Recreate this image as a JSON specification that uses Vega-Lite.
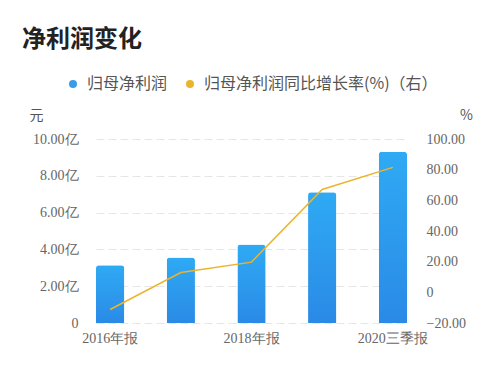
{
  "$schema": "https://vega.github.io/schema/vega-lite/v6.json",
  "width": 311,
  "height": 184,
  "autosize": "none",
  "padding": {"left": 96, "top": 139, "right": 93, "bottom": 49},
  "background": "white",
  "title": {
    "text": "净利润变化",
    "anchor": "start",
    "frame": "group",
    "font": "Noto Sans CJK SC",
    "fontSize": 24,
    "fontWeight": "bold",
    "color": "#222222",
    "dx": -74,
    "baseline": "middle",
    "offset": 0,
    "dy": -12
  },
  "data": {
    "values": [
      {"period": "2016年报", "profit": 3.14, "growth": -11.2},
      {"period": "2017年报", "profit": 3.56, "growth": 12.9},
      {"period": "2018年报", "profit": 4.27, "growth": 19.7},
      {"period": "2019年报", "profit": 7.11, "growth": 67.1},
      {"period": "2020三季报", "profit": 9.31, "growth": 81.5}
    ]
  },
  "encoding": {
    "x": {
      "field": "period",
      "type": "nominal",
      "sort": null,
      "scale": {"paddingInner": 0.6, "paddingOuter": 0},
      "axis": {
        "title": null,
        "domain": false,
        "ticks": false,
        "labelAngle": 0,
        "labelPadding": 8,
        "labelFont": "Liberation Serif",
        "labelFontSize": 14,
        "labelColor": "#666666",
        "labelExpr": "indexof(['2016年报','2018年报','2020三季报'], datum.value) >= 0 ? datum.value : ''"
      }
    }
  },
  "layer": [
    {
      "mark": {
        "type": "bar",
        "cornerRadiusTopLeft": 3,
        "cornerRadiusTopRight": 3,
        "fill": {
          "gradient": "linear",
          "x1": 0, "y1": 0, "x2": 0, "y2": 1,
          "stops": [
            {"offset": 0, "color": "#2faaf4"},
            {"offset": 1, "color": "#2a8ae6"}
          ]
        }
      },
      "encoding": {
        "y": {
          "field": "profit",
          "type": "quantitative",
          "scale": {"domain": [0, 10], "nice": false},
          "axis": {
            "values": [0, 2, 4, 6, 8, 10],
            "domain": false,
            "ticks": false,
            "labelPadding": 18,
            "labelFont": "Liberation Serif",
            "labelFontSize": 14,
            "labelColor": "#666666",
            "labelExpr": "datum.value == 0 ? '0' : format(datum.value, '.2f') + '亿'",
            "grid": true,
            "gridColor": "#e6e6e6",
            "gridDash": [8, 4],
            "title": "元",
            "titleAngle": 0,
            "titleX": -60,
            "titleY": -24,
            "titleAlign": "center",
            "titleBaseline": "middle",
            "titleFont": "Noto Sans CJK SC",
            "titleFontSize": 14,
            "titleFontWeight": "normal",
            "titleColor": "#555555"
          }
        }
      }
    },
    {
      "mark": {"type": "line", "strokeWidth": 1.5, "interpolate": "linear"},
      "encoding": {
        "y": {
          "field": "growth",
          "type": "quantitative",
          "scale": {"domain": [-20, 100], "nice": false, "zero": false},
          "axis": {
            "orient": "right",
            "values": [-20, 0, 20, 40, 60, 80, 100],
            "domain": false,
            "ticks": false,
            "grid": false,
            "labelPadding": 19,
            "labelFont": "Liberation Serif",
            "labelFontSize": 14,
            "labelColor": "#666666",
            "labelExpr": "datum.value == 0 ? '0' : format(datum.value, '.2f')",
            "title": "%",
            "titleAngle": 0,
            "titleX": 59,
            "titleY": -24,
            "titleAlign": "center",
            "titleBaseline": "middle",
            "titleFont": "Noto Sans CJK SC",
            "titleFontSize": 14,
            "titleFontWeight": "normal",
            "titleColor": "#555555"
          }
        },
        "color": {
          "datum": "归母净利润同比增长率(%)（右）",
          "scale": {
            "domain": ["归母净利润", "归母净利润同比增长率(%)（右）"],
            "range": ["#3a9be8", "#ecb42a"]
          },
          "legend": {
            "title": null,
            "orient": "none",
            "direction": "horizontal",
            "legendX": -31,
            "legendY": -63,
            "symbolType": "circle",
            "symbolSize": 64,
            "symbolStrokeWidth": 0,
            "labelFont": "Noto Sans CJK SC",
            "labelFontSize": 16,
            "labelColor": "#555555",
            "labelOffset": 6,
            "columnPadding": 14,
            "labelLimit": 400,
            "encode": {
              "symbols": {
                "update": {
                  "fill": {"scale": "color", "field": "value"},
                  "strokeWidth": {"value": 0}
                }
              }
            }
          }
        }
      }
    }
  ],
  "resolve": {"scale": {"y": "independent"}},
  "config": {
    "view": {"stroke": null},
    "font": "Noto Sans CJK SC"
  }
}
